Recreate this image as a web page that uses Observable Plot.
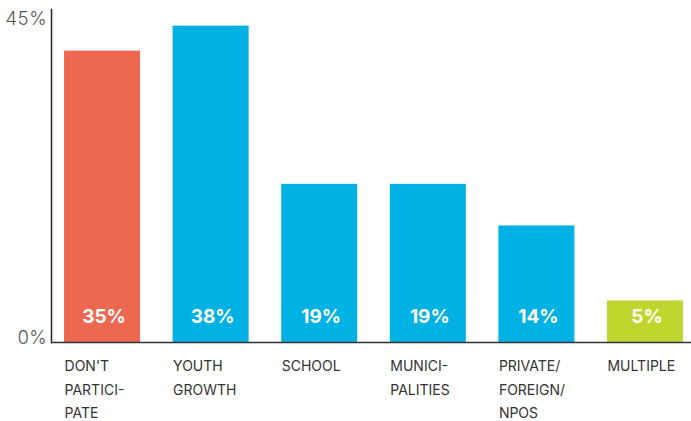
<!DOCTYPE html>
<html>
<head>
<meta charset="utf-8">
<script src="https://cdn.jsdelivr.net/npm/d3@7"></script>
<script src="https://cdn.jsdelivr.net/npm/@observablehq/plot@0.6"></script>
<style>
  html, body { margin: 0; padding: 0; background: #fff; }
  #chart svg { display: block; }
</style>
</head>
<body>
<div id="chart"></div>
<script>
const categories = ["DON'T\nPARTICI-\nPATE", "YOUTH\nGROWTH", "SCHOOL", "MUNICI-\nPALITIES", "PRIVATE/\nFOREIGN/\nNPOS", "MULTIPLE"];
const values = [35, 38, 19, 19, 14, 5];
const groups = ["none", "org", "org", "org", "org", "multi"];
const groupNames = ["none", "org", "multi"];
const groupColors = ["#ec6851", "#00b2e3", "#c1d52f"];
const yTickValues = [0, 40];
const yTickLabels = ["0%", "45%"];

const data = categories.map((c, i) => ({category: c, value: values[i], group: groups[i]}));

const chart = Plot.plot({
  width: 691,
  height: 421,
  marginTop: 9,
  marginBottom: 79,
  marginLeft: 51,
  marginRight: -5,
  style: {fontFamily: "Inter, Roboto, 'Liberation Sans', sans-serif", background: "#fff"},
  x: {domain: categories, paddingInner: 0.3, paddingOuter: 0.12, align: 0.5, round: false, label: null},
  y: {domain: [0, 40], label: null},
  color: {domain: groupNames, range: groupColors},
  marks: [
    Plot.barY(data, {x: "category", y: "value", fill: "group"}),
    Plot.text(data, {x: "category", y: 0, text: d => d.value + "%", fill: "#fff", fontWeight: "bold", fontSize: 19, dy: -26, dx: 1.5}),
    Plot.ruleY([0], {stroke: "#333", strokeWidth: 1.5}),
    Plot.frame({anchor: "left", stroke: "#222", strokeWidth: 1.5}),
    Plot.axisX({tickSize: 0, tickPadding: 12, textAnchor: "start", dx: -38, lineAnchor: "top", fontSize: 14, lineHeight: 1.68, fill: "#333", label: null}),
    Plot.axisY([yTickValues[0]], {tickSize: 0, tickPadding: 5, tickFormat: () => yTickLabels[0], fontSize: 18.5, fontWeight: 300, fill: "#555", dy: -4, label: null}),
    Plot.axisY([yTickValues[1]], {tickSize: 0, tickPadding: 5, tickFormat: () => yTickLabels[1], fontSize: 18.5, fontWeight: 300, fill: "#555", dy: 10, label: null})
  ]
});
document.getElementById("chart").append(chart);
</script>
</body>
</html>
